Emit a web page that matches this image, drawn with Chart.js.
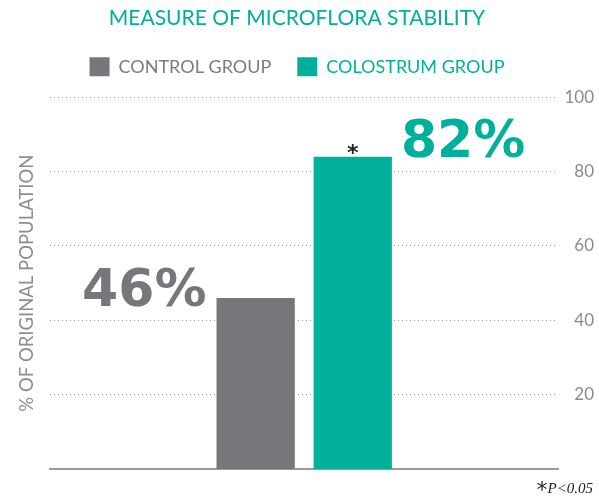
<!DOCTYPE html>
<html>
<head>
<meta charset="utf-8">
<script src="https://cdn.jsdelivr.net/npm/chart.js@4.4.1/dist/chart.umd.min.js"></script>
<style>
  html, body { margin: 0; padding: 0; background: #ffffff; }
  #wrap { width: 599px; height: 501px; }
</style>
</head>
<body>
<div id="wrap"><canvas id="c" width="599" height="501"></canvas></div>
<script>
const categories = [''];
const seriesNames = ['CONTROL GROUP', 'COLOSTRUM GROUP'];
const controlValues = [46];
const colostrumValues = [84];
const valueLabels = ['46%', '82%'];
const significance = ['', '*'];
const yTicks = [20, 40, 60, 80, 100];
const footnote = 'P<0.05';

const TEAL = '#00b09b';
const GRAY = '#76777b';

const labelsPlugin = {
  id: 'bigLabels',
  afterDatasetsDraw(chart) {
    const ctx = chart.ctx;
    ctx.save();
    chart.data.datasets.forEach((ds, i) => {
      const meta = chart.getDatasetMeta(i);
      const bar = meta.data[0];
      if (!bar) return;
      const half = bar.width / 2;
      ctx.font = 'bold 52px "DejaVu Sans"';
      ctx.fillStyle = ds.backgroundColor;
      ctx.textBaseline = 'middle';
      if (i === 0) {
        ctx.textAlign = 'right';
        ctx.fillText(valueLabels[i], bar.x - half - 10, bar.y - 5);
      } else {
        ctx.textAlign = 'left';
        ctx.fillText(valueLabels[i], bar.x + half + 9, bar.y - 13);
      }
      if (significance[i]) {
        ctx.font = 'bold 22px "DejaVu Sans"';
        ctx.fillStyle = '#222';
        ctx.textAlign = 'center';
        ctx.textBaseline = 'alphabetic';
        ctx.fillText(significance[i], bar.x, bar.y + 3);
      }
    });
    // footnote
    ctx.textBaseline = 'alphabetic';
    ctx.textAlign = 'right';
    ctx.fillStyle = '#222';
    ctx.font = 'italic 15px "Liberation Serif"';
    const fw = ctx.measureText(footnote).width;
    ctx.fillText(footnote, chart.width - 6, chart.height - 8);
    ctx.font = '22px "DejaVu Sans"';
    ctx.textAlign = 'right';
    ctx.fillText('*', chart.width - 6 - fw, chart.height - 4);
    ctx.restore();
  }
};

new Chart(document.getElementById('c'), {
  type: 'bar',
  data: {
    labels: categories,
    datasets: [
      { label: seriesNames[0], data: controlValues, backgroundColor: GRAY, yAxisID: 'y' },
      { label: seriesNames[1], data: colostrumValues, backgroundColor: TEAL, yAxisID: 'y' }
    ]
  },
  options: {
    responsive: false,
    animation: false,
    categoryPercentage: 0.382,
    barPercentage: 0.806,
    layout: { padding: { left: 0, right: 5, top: 0, bottom: 24 } },
    plugins: {
      title: {
        display: true,
        text: 'MEASURE OF MICROFLORA STABILITY',
        color: TEAL,
        font: { family: 'Lato', size: 21, weight: 'normal' },
        padding: { top: 6, bottom: 0 }
      },
      legend: {
        display: true,
        labels: {
          boxWidth: 20,
          boxHeight: 19,
          padding: 26,
          font: { family: 'Lato', size: 18 },
          generateLabels(chart) {
            return chart.data.datasets.map((ds, i) => ({
              text: ds.label,
              fillStyle: ds.backgroundColor,
              strokeStyle: ds.backgroundColor,
              lineWidth: 0,
              fontColor: i === 0 ? '#7b7c80' : TEAL,
              datasetIndex: i,
              hidden: false
            }));
          }
        },
        onClick: () => {}
      },
      tooltip: { enabled: false }
    },
    scales: {
      x: {
        grid: { display: false },
        ticks: { display: false },
        border: { display: true, color: '#9a9a9a', width: 2 }
      },
      spacer: {
        type: 'linear',
        position: 'top',
        display: true,
        grid: { display: false },
        ticks: { display: false },
        border: { display: false },
        afterFit(scale) { scale.height = 11; }
      },
      y: {
        position: 'right',
        min: 0,
        max: 100,
        afterBuildTicks(scale) {
          scale.ticks = yTicks.map(v => ({ value: v }));
        },
        ticks: {
          color: '#8a8a8a',
          font: { family: 'Lato', size: 17 },
          padding: 3,
          crossAlign: 'far'
        },
        grid: {
          color: '#9a9a9a',
          lineWidth: 1,
          drawTicks: false
        },
        border: { display: false, dash: [1, 3] }
      },
      yTitle: {
        position: 'left',
        display: true,
        grid: { display: false },
        ticks: { display: false },
        border: { display: false },
        afterFit(scale) { scale.width = 50; },
        title: {
          display: true,
          text: '% OF ORIGINAL POPULATION',
          color: '#8e8e8e',
          font: { family: 'Lato', size: 18.5 },
          padding: { top: 16, bottom: 0 }
        }
      }
    }
  },
  plugins: [labelsPlugin]
});
</script>
</body>
</html>
